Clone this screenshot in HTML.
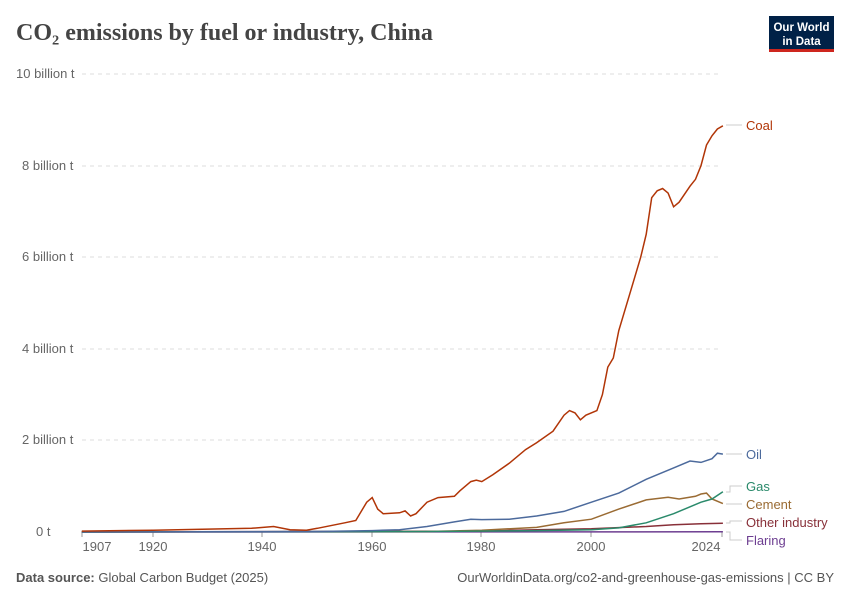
<!DOCTYPE html>
<html><head><meta charset="utf-8"><style>
body{margin:0;background:#fff;width:850px;height:600px;overflow:hidden;font-family:"Liberation Sans",sans-serif}
</style></head><body>
<svg id="s" width="850" height="600" xmlns="http://www.w3.org/2000/svg" font-family="Liberation Sans, sans-serif">
<text x="16" y="40" font-family="Liberation Serif, serif" font-size="24" font-weight="bold" fill="#444">CO₂ emissions by fuel or industry, China</text>
<rect x="769" y="16" width="65" height="36" fill="#002147"/>
<rect x="769" y="49" width="65" height="3" fill="#ce261e"/>
<text x="801.5" y="31" font-size="11.5" fill="#fff" text-anchor="middle" font-weight="bold">Our World</text>
<text x="801.5" y="45" font-size="11.5" fill="#fff" text-anchor="middle" font-weight="bold">in Data</text>
<g stroke="#ddd" stroke-dasharray="4,4">
<line x1="82" x2="722" y1="74" y2="74"/><line x1="82" x2="722" y1="166" y2="166"/>
<line x1="82" x2="722" y1="257" y2="257"/><line x1="82" x2="722" y1="349" y2="349"/>
<line x1="82" x2="722" y1="440" y2="440"/>
</g>
<line x1="82" x2="722" y1="532" y2="532" stroke="#999"/>
<g font-size="13" fill="#666">
<text x="16" y="78">10 billion t</text><text x="22" y="170">8 billion t</text>
<text x="22" y="261">6 billion t</text><text x="22" y="353">4 billion t</text>
<text x="22" y="444">2 billion t</text><text x="36" y="536">0 t</text>
</g>
<g font-size="13" fill="#666" text-anchor="middle">
<text x="97" y="551">1907</text><text x="153" y="551">1920</text><text x="262" y="551">1940</text>
<text x="372" y="551">1960</text><text x="481" y="551">1980</text><text x="591" y="551">2000</text><text x="706" y="551">2024</text>
</g>
<g stroke="#999"><line x1="82" x2="82" y1="532" y2="537"/><line x1="153" x2="153" y1="532" y2="537"/><line x1="262" x2="262" y1="532" y2="537"/><line x1="372" x2="372" y1="532" y2="537"/><line x1="481" x2="481" y1="532" y2="537"/><line x1="591" x2="591" y1="532" y2="537"/><line x1="722" x2="722" y1="532" y2="537"/></g>
<g id="lines" fill="none" stroke-width="1.5"></g>
<g stroke="#ccc" fill="none">
<path d="M726 125H742"/><path d="M726 454H742"/>
<path d="M726 492H730V486H742"/><path d="M726 504H742"/>
<path d="M726 523H730V521H742"/><path d="M726 532H730V540H742"/>
</g>
<g font-size="13">
<text x="746" y="130" fill="#b13507">Coal</text>
<text x="746" y="459" fill="#4c6a9c">Oil</text>
<text x="746" y="491" fill="#2a8a6b">Gas</text>
<text x="746" y="509" fill="#9a6b33">Cement</text>
<text x="746" y="527" fill="#883039">Other industry</text>
<text x="746" y="545" fill="#6d3e91">Flaring</text>
</g>
<text x="16" y="582" font-size="13" fill="#555"><tspan font-weight="bold">Data source:</tspan> Global Carbon Budget (2025)</text>
<text x="834" y="582" font-size="13" fill="#555" text-anchor="end">OurWorldinData.org/co2-and-greenhouse-gas-emissions | CC BY</text>
</svg>
<script>
var X=function(y){return 153+(y-1920)*5.48},Y=function(v){return 532-v*45.8};
var S=[
["#6d3e91",[[1907,0],[2024,0.005]]],
["#883039",[[1907,0],[1980,0.02],[1990,0.05],[2000,0.07],[2010,0.12],[2015,0.16],[2020,0.18],[2024,0.19]]],
["#9a6b33",[[1907,0],[1970,0.01],[1980,0.04],[1990,0.1],[1995,0.2],[2000,0.28],[2005,0.5],[2010,0.7],[2014,0.76],[2016,0.72],[2019,0.78],[2020,0.83],[2021,0.85],[2022,0.72],[2024,0.62]]],
["#2a8a6b",[[1907,0],[1970,0.01],[1990,0.03],[2000,0.05],[2005,0.09],[2010,0.2],[2015,0.4],[2020,0.65],[2022,0.72],[2024,0.88]]],
["#4c6a9c",[[1907,0],[1950,0.01],[1960,0.03],[1965,0.05],[1970,0.12],[1975,0.22],[1978,0.28],[1980,0.27],[1985,0.28],[1990,0.35],[1995,0.45],[2000,0.65],[2005,0.85],[2010,1.15],[2015,1.4],[2018,1.55],[2020,1.52],[2022,1.6],[2023,1.72],[2024,1.7]]],
["#b13507",[[1907,0.02],[1920,0.04],[1938,0.08],[1942,0.12],[1945,0.05],[1948,0.04],[1950,0.08],[1955,0.2],[1957,0.25],[1959,0.65],[1960,0.75],[1961,0.5],[1962,0.4],[1965,0.42],[1966,0.46],[1967,0.35],[1968,0.4],[1970,0.65],[1972,0.75],[1975,0.78],[1976,0.9],[1978,1.1],[1979,1.13],[1980,1.1],[1982,1.25],[1985,1.5],[1988,1.8],[1990,1.95],[1993,2.2],[1995,2.55],[1996,2.65],[1997,2.6],[1998,2.45],[1999,2.55],[2001,2.65],[2002,3.0],[2003,3.6],[2004,3.8],[2005,4.4],[2007,5.2],[2009,6.0],[2010,6.5],[2011,7.3],[2012,7.45],[2013,7.5],[2014,7.4],[2015,7.1],[2016,7.2],[2018,7.55],[2019,7.7],[2020,8.0],[2021,8.45],[2022,8.65],[2023,8.8],[2024,8.87]]]];
var g=document.getElementById("lines"),h="";
S.forEach(function(s){h+='<polyline stroke="'+s[0]+'" points="'+s[1].map(function(p){return X(p[0]).toFixed(1)+","+Y(p[1]).toFixed(1)}).join(" ")+'"/>'});
g.innerHTML=h;
</script>
</body></html>
